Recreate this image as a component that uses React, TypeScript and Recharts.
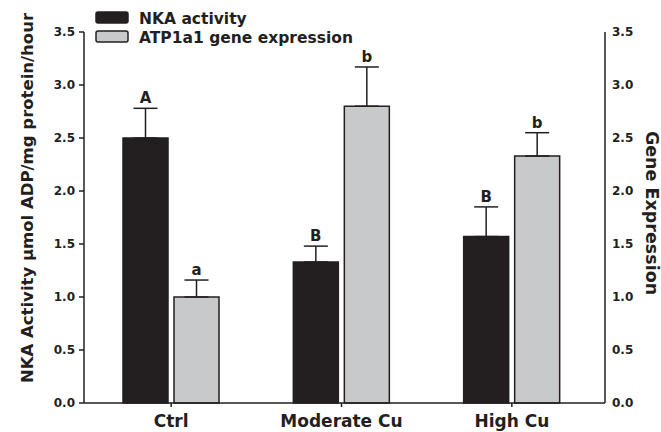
import React from 'react';
import { BarChart, Bar, XAxis, YAxis, ErrorBar, LabelList, Label } from 'recharts';

const categories = ['Ctrl', 'Moderate Cu', 'High Cu'];
const nkaValues = [2.5, 1.33, 1.57];
const nkaErrors = [0.28, 0.15, 0.28];
const atpValues = [1.0, 2.8, 2.33];
const atpErrors = [0.16, 0.37, 0.22];
const nkaLetters = ['A', 'B', 'B'];
const atpLetters = ['a', 'b', 'b'];
const yTicks = [0, 0.5, 1.0, 1.5, 2.0, 2.5, 3.0, 3.5];
const legendNames = ['NKA activity', 'ATP1a1 gene expression'];

const data = categories.map((c, i) => ({
  name: c,
  nka: nkaValues[i],
  nkaErr: [0, nkaErrors[i]],
  atp: atpValues[i],
  atpErr: [0, atpErrors[i]],
}));

const FONT = '"DejaVu Sans", Verdana, sans-serif';
const INK = '#231f20';
const GRAY = '#c8c9cb';

const makeLetter = (letters: string[], errs: number[], values: number[]) => (props: any) => {
  const { x, y, width, height, index } = props;
  const pxPerUnit = height / values[index];
  const top = y - errs[index] * pxPerUnit;
  return (
    <text x={x + width / 2} y={top - 5} textAnchor="middle" fontFamily={FONT} fontWeight="bold" fontSize={15} fill={INK}>
      {letters[index]}
    </text>
  );
};

const tickStyle = { fontFamily: FONT, fontWeight: 'bold' as const, fontSize: 12, fill: INK };

export default function App() {
  return (
    <div style={{ position: 'absolute', left: 0, top: 0, width: 661, height: 432, background: '#fff' }}>
      <BarChart
        width={661}
        height={432}
        data={data}
        margin={{ top: 32, right: 0, bottom: 0, left: 0 }}
        barGap={6}
        barCategoryGap={37}
      >
        <XAxis
          dataKey="name"
          height={29}
          padding={{ left: 2, right: 8 }}
          tick={{ ...tickStyle, fontSize: 17 }}
          tickSize={4}
          tickMargin={8}
          axisLine={{ stroke: INK, strokeWidth: 1.5 }}
          tickLine={{ stroke: INK, strokeWidth: 1.5 }}
        />
        <YAxis
          yAxisId="left"
          width={84}
          domain={[0, 3.5]}
          ticks={yTicks}
          tickFormatter={(v: number) => v.toFixed(1)}
          tick={tickStyle}
          tickSize={5}
          tickMargin={4}
          axisLine={{ stroke: INK, strokeWidth: 1.5 }}
          tickLine={{ stroke: INK, strokeWidth: 1.5 }}
        >
          <Label
            content={() => (
              <text
                x={0}
                y={0}
                transform="translate(27,198) rotate(-90)"
                textAnchor="middle"
                dominantBaseline="central"
                fontFamily={FONT}
                fontWeight="bold"
                fontSize={16.5}
                fill={INK}
              >
                NKA Activity µmol ADP/mg protein/hour
              </text>
            )}
          />
        </YAxis>
        <YAxis
          yAxisId="right"
          orientation="right"
          width={56}
          domain={[0, 3.5]}
          ticks={yTicks}
          tickFormatter={(v: number) => v.toFixed(1)}
          tick={tickStyle}
          tickSize={0}
          tickMargin={7}
          axisLine={{ stroke: INK, strokeWidth: 1.5 }}
          tickLine={false}
        >
          <Label
            content={() => (
              <text
                x={0}
                y={0}
                transform="translate(652,213) rotate(90)"
                textAnchor="middle"
                dominantBaseline="central"
                fontFamily={FONT}
                fontWeight="bold"
                fontSize={17.5}
                fill={INK}
              >
                Gene Expression
              </text>
            )}
          />
        </YAxis>
        <Bar yAxisId="left" dataKey="nka" fill={INK} stroke={INK} strokeWidth={1.5} isAnimationActive={false}>
          <ErrorBar dataKey="nkaErr" direction="y" width={12} stroke={INK} strokeWidth={1.5} isAnimationActive={false} />
          <LabelList dataKey="nka" content={makeLetter(nkaLetters, nkaErrors, nkaValues)} />
        </Bar>
        <Bar yAxisId="right" dataKey="atp" fill={GRAY} stroke={INK} strokeWidth={1.5} isAnimationActive={false}>
          <ErrorBar dataKey="atpErr" direction="y" width={12} stroke={INK} strokeWidth={1.5} isAnimationActive={false} />
          <LabelList dataKey="atp" content={makeLetter(atpLetters, atpErrors, atpValues)} />
        </Bar>
      </BarChart>
      <svg width={300} height={50} style={{ position: 'absolute', left: 94, top: 8 }}>
        <rect x={2} y={4} width={32} height={11} rx={2} fill={INK} stroke={INK} strokeWidth={1.5} />
        <text x={45} y={16} fontFamily={FONT} fontWeight="bold" fontSize={15.5} fill={INK}>{legendNames[0]}</text>
        <rect x={2} y={23} width={32} height={11} rx={2} fill={GRAY} stroke={INK} strokeWidth={1.5} />
        <text x={45} y={35} fontFamily={FONT} fontWeight="bold" fontSize={15.5} fill={INK}>{legendNames[1]}</text>
      </svg>
    </div>
  );
}
